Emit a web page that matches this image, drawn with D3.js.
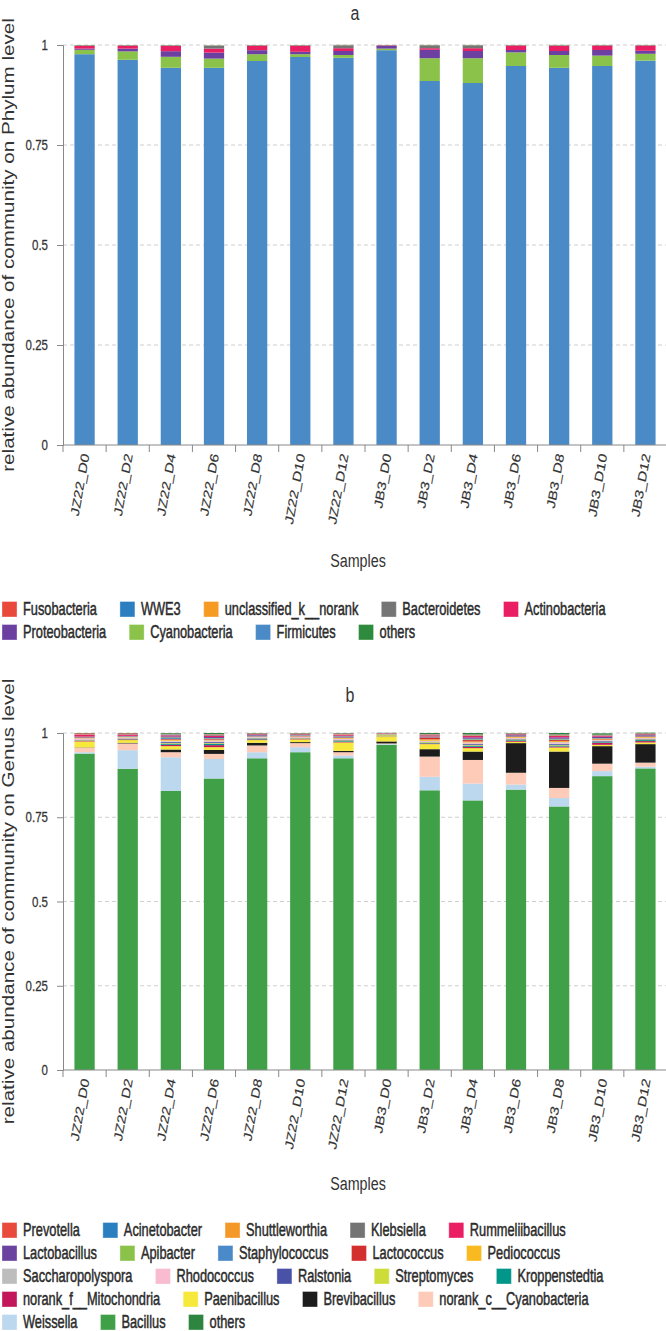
<!DOCTYPE html>
<html><head><meta charset="utf-8">
<script src="https://cdn.jsdelivr.net/npm/d3@7"></script>
<style>body{margin:0;background:#fff} svg{display:block}</style>
</head><body>
<svg id="chart" width="666" height="1331"></svg>
<script>
// ---------- DATA ----------
const samples = ["JZ22_D0","JZ22_D2","JZ22_D4","JZ22_D6","JZ22_D8","JZ22_D10","JZ22_D12","JB3_D0","JB3_D2","JB3_D4","JB3_D6","JB3_D8","JB3_D10","JB3_D12"];
const yTickValues = [0, 0.25, 0.5, 0.75, 1];
const yTickLabels = ["0", "0.25", "0.5", "0.75", "1"];

// Phylum level (chart a)
const phylumLegend = ["Fusobacteria","WWE3","unclassified_k__norank","Bacteroidetes","Actinobacteria","Proteobacteria","Cyanobacteria","Firmicutes","others"];
const phylumColors = ["#e8493b","#2b7fc0","#f59a23","#757575","#e91e63","#6b40a0","#8bc34a","#4a8ac6","#2e8b3d"];
const phylumStackOrder = ["Firmicutes","Cyanobacteria","Proteobacteria","Actinobacteria","Bacteroidetes","unclassified_k__norank","WWE3","Fusobacteria","others"];
const Firmicutes      = [0.977,0.963,0.943,0.943,0.960,0.970,0.968,0.987,0.910,0.905,0.9475,0.943,0.9475,0.961];
const Cyanobacteria   = [0.011,0.021,0.0275,0.023,0.017,0.007,0.007,0.004,0.057,0.062,0.034,0.032,0.026,0.017];
const Proteobacteria  = [0.003,0.007,0.014,0.015,0.010,0.006,0.010,0.007,0.021,0.018,0.006,0.010,0.014,0.0075];
const Actinobacteria  = [0.0067,0.007,0.013,0.010,0.011,0.015,0.007,0.001,0.004,0.007,0.011,0.013,0.011,0.013];
const Bacteroidetes   = [0.001,0.001,0.001,0.007,0.001,0.001,0.007,0.0005,0.007,0.007,0.001,0.001,0.001,0.001];
const unclassified_k__norank = [0.0003,0.0003,0.0003,0.0003,0.0003,0.0003,0.0003,0.0002,0.0003,0.0003,0.0002,0.0003,0.0002,0.0002];
const WWE3            = [0.0002,0.0002,0.0002,0.0002,0.0002,0.0002,0.0002,0.0001,0.0002,0.0002,0.0001,0.0002,0.0001,0.0001];
const Fusobacteria    = [0.0003,0.0002,0.0003,0.0003,0.0002,0.0002,0.0003,0.0001,0.0002,0.0002,0.0001,0.0002,0.0001,0.0001];
const phylumOthers    = [0.0005,0.0003,0.0005,0.0005,0.0003,0.0003,0.0005,0.0002,0.0005,0.0005,0.0002,0.0005,0.0002,0.0002];

// Genus level (chart b)
const genusLegend = ["Prevotella","Acinetobacter","Shuttleworthia","Klebsiella","Rummeliibacillus","Lactobacillus","Apibacter","Staphylococcus","Lactococcus","Pediococcus","Saccharopolyspora","Rhodococcus","Ralstonia","Streptomyces","Kroppenstedtia","norank_f__Mitochondria","Paenibacillus","Brevibacillus","norank_c__Cyanobacteria","Weissella","Bacillus","others"];
const genusColors = ["#e84a3c","#2a7fc1","#f5982a","#747474","#e91e63","#6a42a0","#8bc34a","#4a8ac8","#d32f2f","#f9b921","#bdbdbd","#f8bbd0","#4a52a8","#cddc39","#00968a","#c2185b","#f7e83c","#1c1c1c","#fdcbb8","#bcd8ee","#40a047","#2e8540"];
const genusStackOrder = ["Bacillus","Weissella","norank_c__Cyanobacteria","Brevibacillus","Paenibacillus","norank_f__Mitochondria","Kroppenstedtia","Streptomyces","Ralstonia","Rhodococcus","Saccharopolyspora","Pediococcus","Lactococcus","Staphylococcus","Apibacter","Lactobacillus","Rummeliibacillus","Klebsiella","Shuttleworthia","Acinetobacter","Prevotella","others"];
const Bacillus        = [0.939,0.894,0.828,0.865,0.925,0.943,0.925,0.965,0.830,0.800,0.832,0.782,0.872,0.895];
const Weissella       = [0.004,0.055,0.100,0.058,0.018,0.015,0.008,0.002,0.040,0.050,0.015,0.025,0.015,0.005];
const norank_c__Cyanobacteria = [0.013,0.020,0.015,0.015,0.020,0.012,0.010,0.002,0.060,0.070,0.035,0.030,0.022,0.012];
const Brevibacillus   = [0.001,0.002,0.008,0.012,0.008,0.003,0.004,0.006,0.022,0.025,0.088,0.108,0.052,0.055];
const Paenibacillus   = [0.018,0.008,0.010,0.008,0.008,0.008,0.025,0.013,0.015,0.010,0.004,0.012,0.004,0.005];
const norank_f__Mitochondria = [0.002,0.002,0.004,0.006,0.002,0.002,0.002,0.001,0.002,0.004,0.003,0.003,0.006,0.004];
const Kroppenstedtia  = [0.001,0.001,0.003,0.004,0.002,0.001,0.002,0.0005,0.002,0.003,0.002,0.003,0.002,0.003];
const Streptomyces    = [0.001,0.001,0.002,0.002,0.001,0.001,0.002,0.004,0.002,0.002,0.002,0.002,0.001,0.002];
const Ralstonia       = [0.001,0.001,0.003,0.003,0.001,0.001,0.002,0.0005,0.001,0.003,0.002,0.003,0.002,0.002];
const Rhodococcus     = [0.003,0.002,0.002,0.003,0.002,0.002,0.002,0.0005,0.002,0.003,0.002,0.003,0.002,0.002];
const Saccharopolyspora = [0.001,0.001,0.002,0.002,0.001,0.001,0.001,0.0005,0.001,0.002,0.001,0.002,0.001,0.001];
const Pediococcus     = [0.001,0.001,0.003,0.002,0.001,0.001,0.002,0.0005,0.004,0.003,0.002,0.003,0.002,0.002];
const Lactococcus     = [0.002,0.001,0.002,0.002,0.001,0.001,0.002,0.0005,0.006,0.004,0.002,0.003,0.002,0.002];
const Staphylococcus  = [0.001,0.001,0.003,0.002,0.001,0.001,0.002,0.0005,0.001,0.002,0.001,0.002,0.001,0.001];
const Apibacter       = [0.0005,0.0005,0.002,0.001,0.001,0.001,0.001,0.0005,0.001,0.002,0.001,0.002,0.001,0.001];
const Lactobacillus   = [0.001,0.001,0.003,0.003,0.002,0.001,0.002,0.0005,0.001,0.004,0.002,0.004,0.004,0.002];
const Rummeliibacillus = [0.005,0.004,0.003,0.004,0.002,0.002,0.003,0.001,0.003,0.004,0.002,0.004,0.003,0.002];
const Klebsiella      = [0.0005,0.0005,0.002,0.002,0.001,0.001,0.001,0.0005,0.001,0.002,0.001,0.002,0.001,0.001];
const Shuttleworthia  = [0.0005,0.0005,0.001,0.001,0.0005,0.0005,0.001,0.0003,0.001,0.001,0.0005,0.001,0.0005,0.0005];
const Acinetobacter   = [0.0005,0.0005,0.001,0.001,0.0005,0.0005,0.001,0.0003,0.001,0.001,0.0005,0.001,0.0005,0.0005];
const Prevotella      = [0.003,0.002,0.001,0.001,0.001,0.001,0.001,0.0005,0.001,0.001,0.001,0.001,0.001,0.001];
const genusOthers     = [0.001,0.001,0.002,0.003,0.001,0.001,0.001,0.0005,0.003,0.004,0.001,0.004,0.004,0.002];

// ---------- BUILD TABLES ----------
const phylumSeries = {Firmicutes, Cyanobacteria, Proteobacteria, Actinobacteria, Bacteroidetes, unclassified_k__norank, WWE3, Fusobacteria, others: phylumOthers};
const genusSeries = {Bacillus, Weissella, norank_c__Cyanobacteria, Brevibacillus, Paenibacillus, norank_f__Mitochondria, Kroppenstedtia, Streptomyces, Ralstonia, Rhodococcus, Saccharopolyspora, Pediococcus, Lactococcus, Staphylococcus, Apibacter, Lactobacillus, Rummeliibacillus, Klebsiella, Shuttleworthia, Acinetobacter, Prevotella, others: genusOthers};
function table(series){ return samples.map((s,i)=>{ const r={sample:s}; for(const k in series) r[k]=series[k][i]; return r; }); }

// ---------- DRAW ----------
const svg = d3.select("#chart");
const S = 1.35;          // vertical text stretch seen in the reference
const FONT = "'Liberation Sans', Arial, sans-serif";
const TXT = "#333";

function drawChart(cfg){
  const g = svg.append("g");
  const x = d3.scaleBand().domain(samples).range([63, 667]).paddingInner(0.53).paddingOuter(0.265);
  const y = d3.scaleLinear().domain([0,1]).range([cfg.bottom, cfg.top]);
  const color = d3.scaleOrdinal().domain(cfg.legend).range(cfg.colors);

  // title
  g.append("text").attr("transform",`translate(${cfg.titleX},${cfg.titleY}) scale(1,1.3)`)
    .attr("text-anchor","middle").attr("font-family",FONT).attr("font-size",16).attr("fill",TXT).text(cfg.title);

  // grid
  g.append("g").selectAll("line").data(yTickValues.filter(v=>v>0)).join("line")
    .attr("x1",63).attr("x2",666).attr("y1",d=>y(d)).attr("y2",d=>y(d))
    .attr("stroke","#cfcfcf").attr("stroke-dasharray","4,3").attr("stroke-width",1);

  // bars
  const stacked = d3.stack().keys(cfg.stackOrder)(table(cfg.series));
  g.append("g").selectAll("g").data(stacked).join("g").attr("fill",d=>color(d.key))
    .selectAll("rect").data(d=>d).join("rect")
    .attr("x",d=>x(d.data.sample)).attr("width",x.bandwidth())
    .attr("y",d=>y(d[1])).attr("height",d=>Math.max(0,y(d[0])-y(d[1])));

  // y axis
  const ya = g.append("g").attr("transform","translate(63,0)")
    .call(d3.axisLeft(y).tickValues(yTickValues).tickSize(6).tickPadding(9).tickFormat((d,i)=>yTickLabels[i]));
  ya.select(".domain").attr("stroke","#888");
  ya.selectAll(".tick line").attr("stroke","#888");
  ya.selectAll(".tick text").attr("font-family",FONT).attr("font-size",11.5).attr("fill",TXT)
    .attr("stroke",TXT).attr("stroke-width",0.2)
    .attr("transform",`scale(1,${S})`).attr("dy","0.3em");

  // x axis line + boundary ticks
  const step = x.step();
  g.append("line").attr("x1",63).attr("x2",666).attr("y1",cfg.bottom).attr("y2",cfg.bottom).attr("stroke","#888");
  g.append("g").selectAll("line").data(d3.range(samples.length+1)).join("line")
    .attr("x1",i=> (i<samples.length ? x(samples[i]) - step*x.paddingInner()/2 : x(samples[i-1]) + x.bandwidth() + step*x.paddingInner()/2))
    .attr("x2",function(i){ return d3.select(this).attr("x1"); })
    .attr("y1",cfg.bottom).attr("y2",cfg.bottom+7).attr("stroke","#888");

  // x labels
  g.append("g").selectAll("text").data(samples).join("text")
    .attr("transform",d=>`translate(${x(d)+x.bandwidth()/2+5},${cfg.bottom+10}) scale(1,1.3) rotate(-77)`)
    .attr("text-anchor","end").attr("font-family",FONT).attr("font-size",12).attr("fill",TXT)
    .attr("stroke",TXT).attr("stroke-width",0.15).text(d=>d);

  // y label
  g.append("text").attr("transform",`translate(14,${(cfg.top+cfg.bottom)/2}) scale(1,1.25) rotate(-90)`)
    .attr("text-anchor","middle").attr("font-family",FONT).attr("font-size",16.5).attr("fill",TXT).text(cfg.yLabel);

  // x title
  g.append("text").attr("transform",`translate(358,${cfg.samplesY}) scale(1,1.3)`)
    .attr("text-anchor","middle").attr("font-family",FONT).attr("font-size",14.3).attr("fill",TXT).attr("dy","0.35em").text("Samples");

  // legend (flow rows)
  cfg.legendRows.forEach((row,ri)=>{
    const cy = cfg.legendY + ri*23;
    let lx = 2;
    row.forEach(name=>{
      g.append("rect").attr("x",lx).attr("y",cy-7.5).attr("width",15).attr("height",15.5).attr("fill",color(name))
        .attr("stroke","#fff").attr("stroke-opacity",0.35).attr("stroke-width",1);
      const t = g.append("text").attr("transform",`translate(${lx+21},${cy}) scale(1,1.38)`)
        .attr("dy","0.36em").attr("font-family",FONT).attr("font-size",12.8).attr("fill","#2b2b2b")
        .attr("stroke","#2b2b2b").attr("stroke-width",0.35).text(name);
      lx += 21 + t.node().getComputedTextLength() + 23;
    });
  });
}

drawChart({
  title:"a", titleX:355, titleY:20, top:45, bottom:445, samplesY:560, legendY:609,
  yLabel:"relative abundance of community on Phylum level",
  legend:phylumLegend, colors:phylumColors, stackOrder:phylumStackOrder, series:phylumSeries,
  legendRows:[phylumLegend.slice(0,5), phylumLegend.slice(5)]
});
drawChart({
  title:"b", titleX:350, titleY:702, top:733, bottom:1070, samplesY:1183, legendY:1230,
  yLabel:"relative abundance of community on Genus level",
  legend:genusLegend, colors:genusColors, stackOrder:genusStackOrder, series:genusSeries,
  legendRows:[genusLegend.slice(0,5), genusLegend.slice(5,10), genusLegend.slice(10,15), genusLegend.slice(15,19), genusLegend.slice(19)]
});
</script>
</body></html>
